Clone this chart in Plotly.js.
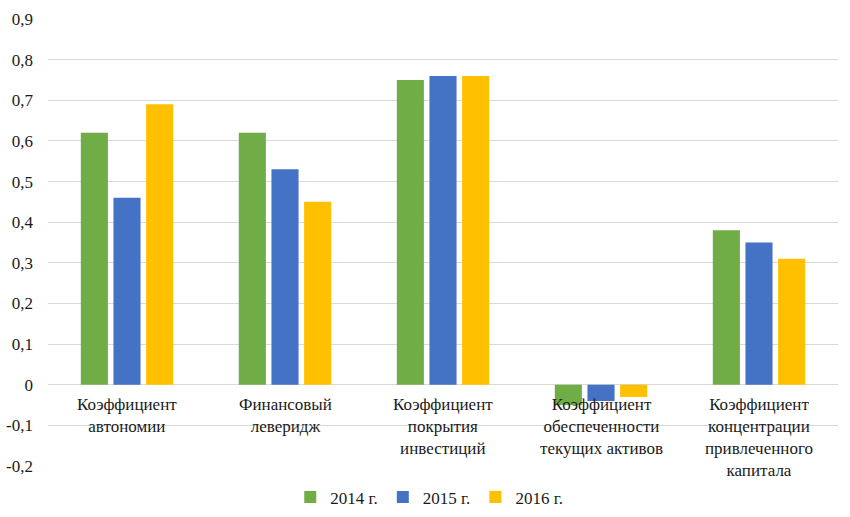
<!DOCTYPE html>
<html>
<head>
<meta charset="utf-8">
<script src="https://cdn.plot.ly/plotly-3.0.1.min.js"></script>
<style>
  html, body { margin: 0; padding: 0; background: #fff; }
  #chart { width: 850px; height: 517px; }
  #chart text { font-family: 'Liberation Serif', 'Times New Roman', serif !important; }
</style>
</head>
<body>
<div id="chart"></div>
<script>
/* ---- Data ---- */
const categories = [
  'Коэффициент<br>автономии',
  'Финансовый<br>леверидж',
  'Коэффициент<br>покрытия<br>инвестиций',
  'Коэффициент<br>обеспеченности<br>текущих активов',
  'Коэффициент<br>концентрации<br>привлеченного<br>капитала',
];
const years = ['2014 г.', '2015 г.', '2016 г.'];
const v2014 = [0.62, 0.62, 0.75, -0.05, 0.38];
const v2015 = [0.46, 0.53, 0.76, -0.04, 0.35];
const v2016 = [0.69, 0.45, 0.76, -0.03, 0.31];
const tickVals = [-0.2, -0.1, 0, 0.1, 0.2, 0.3, 0.4, 0.5, 0.6, 0.7, 0.8, 0.9];
const tickText = ['-0,2', '-0,1', '0', '0,1', '0,2', '0,3', '0,4', '0,5', '0,6', '0,7', '0,8', '0,9'];

const colors = ['#70ad47', '#4472c4', '#ffc000'];
const FONT = 'Liberation Serif';

const xIdx = categories.map((_, i) => i);

const traces = [v2014, v2015, v2016].map((vals, i) => ({
  type: 'bar',
  x: xIdx,
  y: vals,
  name: years[i],
  marker: { color: colors[i], line: { width: 0 } },
  hoverinfo: 'skip',
}));

// category labels sit just under the zero line, inside the plot
const annotations = categories.map((c, i) => ({
  text: c,
  x: i, y: 0,
  xref: 'x', yref: 'y',
  yanchor: 'top', yshift: -8,
  showarrow: false,
  align: 'center',
  font: { family: FONT, size: 17, color: '#1a1a1a' },
}));

const layout = {
  width: 850, height: 517,
  paper_bgcolor: '#fff',
  plot_bgcolor: '#fff',
  font: { family: FONT, size: 16, color: '#1a1a1a' },
  margin: { l: 48, r: 12, t: 19, b: 51, autoexpand: false },
  barmode: 'group',
  bargap: 0.38,
  bargroupgap: 0.17,
  showlegend: true,
  legend: {
    orientation: 'h',
    xref: 'container', yref: 'container',
    x: 0.505, xanchor: 'center',
    y: 0.038, yanchor: 'middle',
    itemwidth: 30,
    font: { family: FONT, size: 17, color: '#1a1a1a' },
    traceorder: 'normal',
  },
  xaxis: {
    range: [-0.5, 4.5],
    showticklabels: false,
    showgrid: false,
    zeroline: false,
    showline: false,
    ticks: '',
  },
  yaxis: {
    range: [-0.2, 0.9],
    tickvals: tickVals,
    ticktext: tickText,
    gridcolor: '#d9d9d9',
    gridwidth: 1,
    zeroline: true,
    zerolinecolor: '#d9d9d9',
    zerolinewidth: 1,
    showline: false,
    ticks: '',
    ticklabelstandoff: 14,
    tickfont: { family: FONT, size: 17, color: '#1a1a1a' },
  },
  annotations,
};

Plotly.newPlot('chart', traces, layout, { displayModeBar: false, staticPlot: true });
</script>
</body>
</html>
